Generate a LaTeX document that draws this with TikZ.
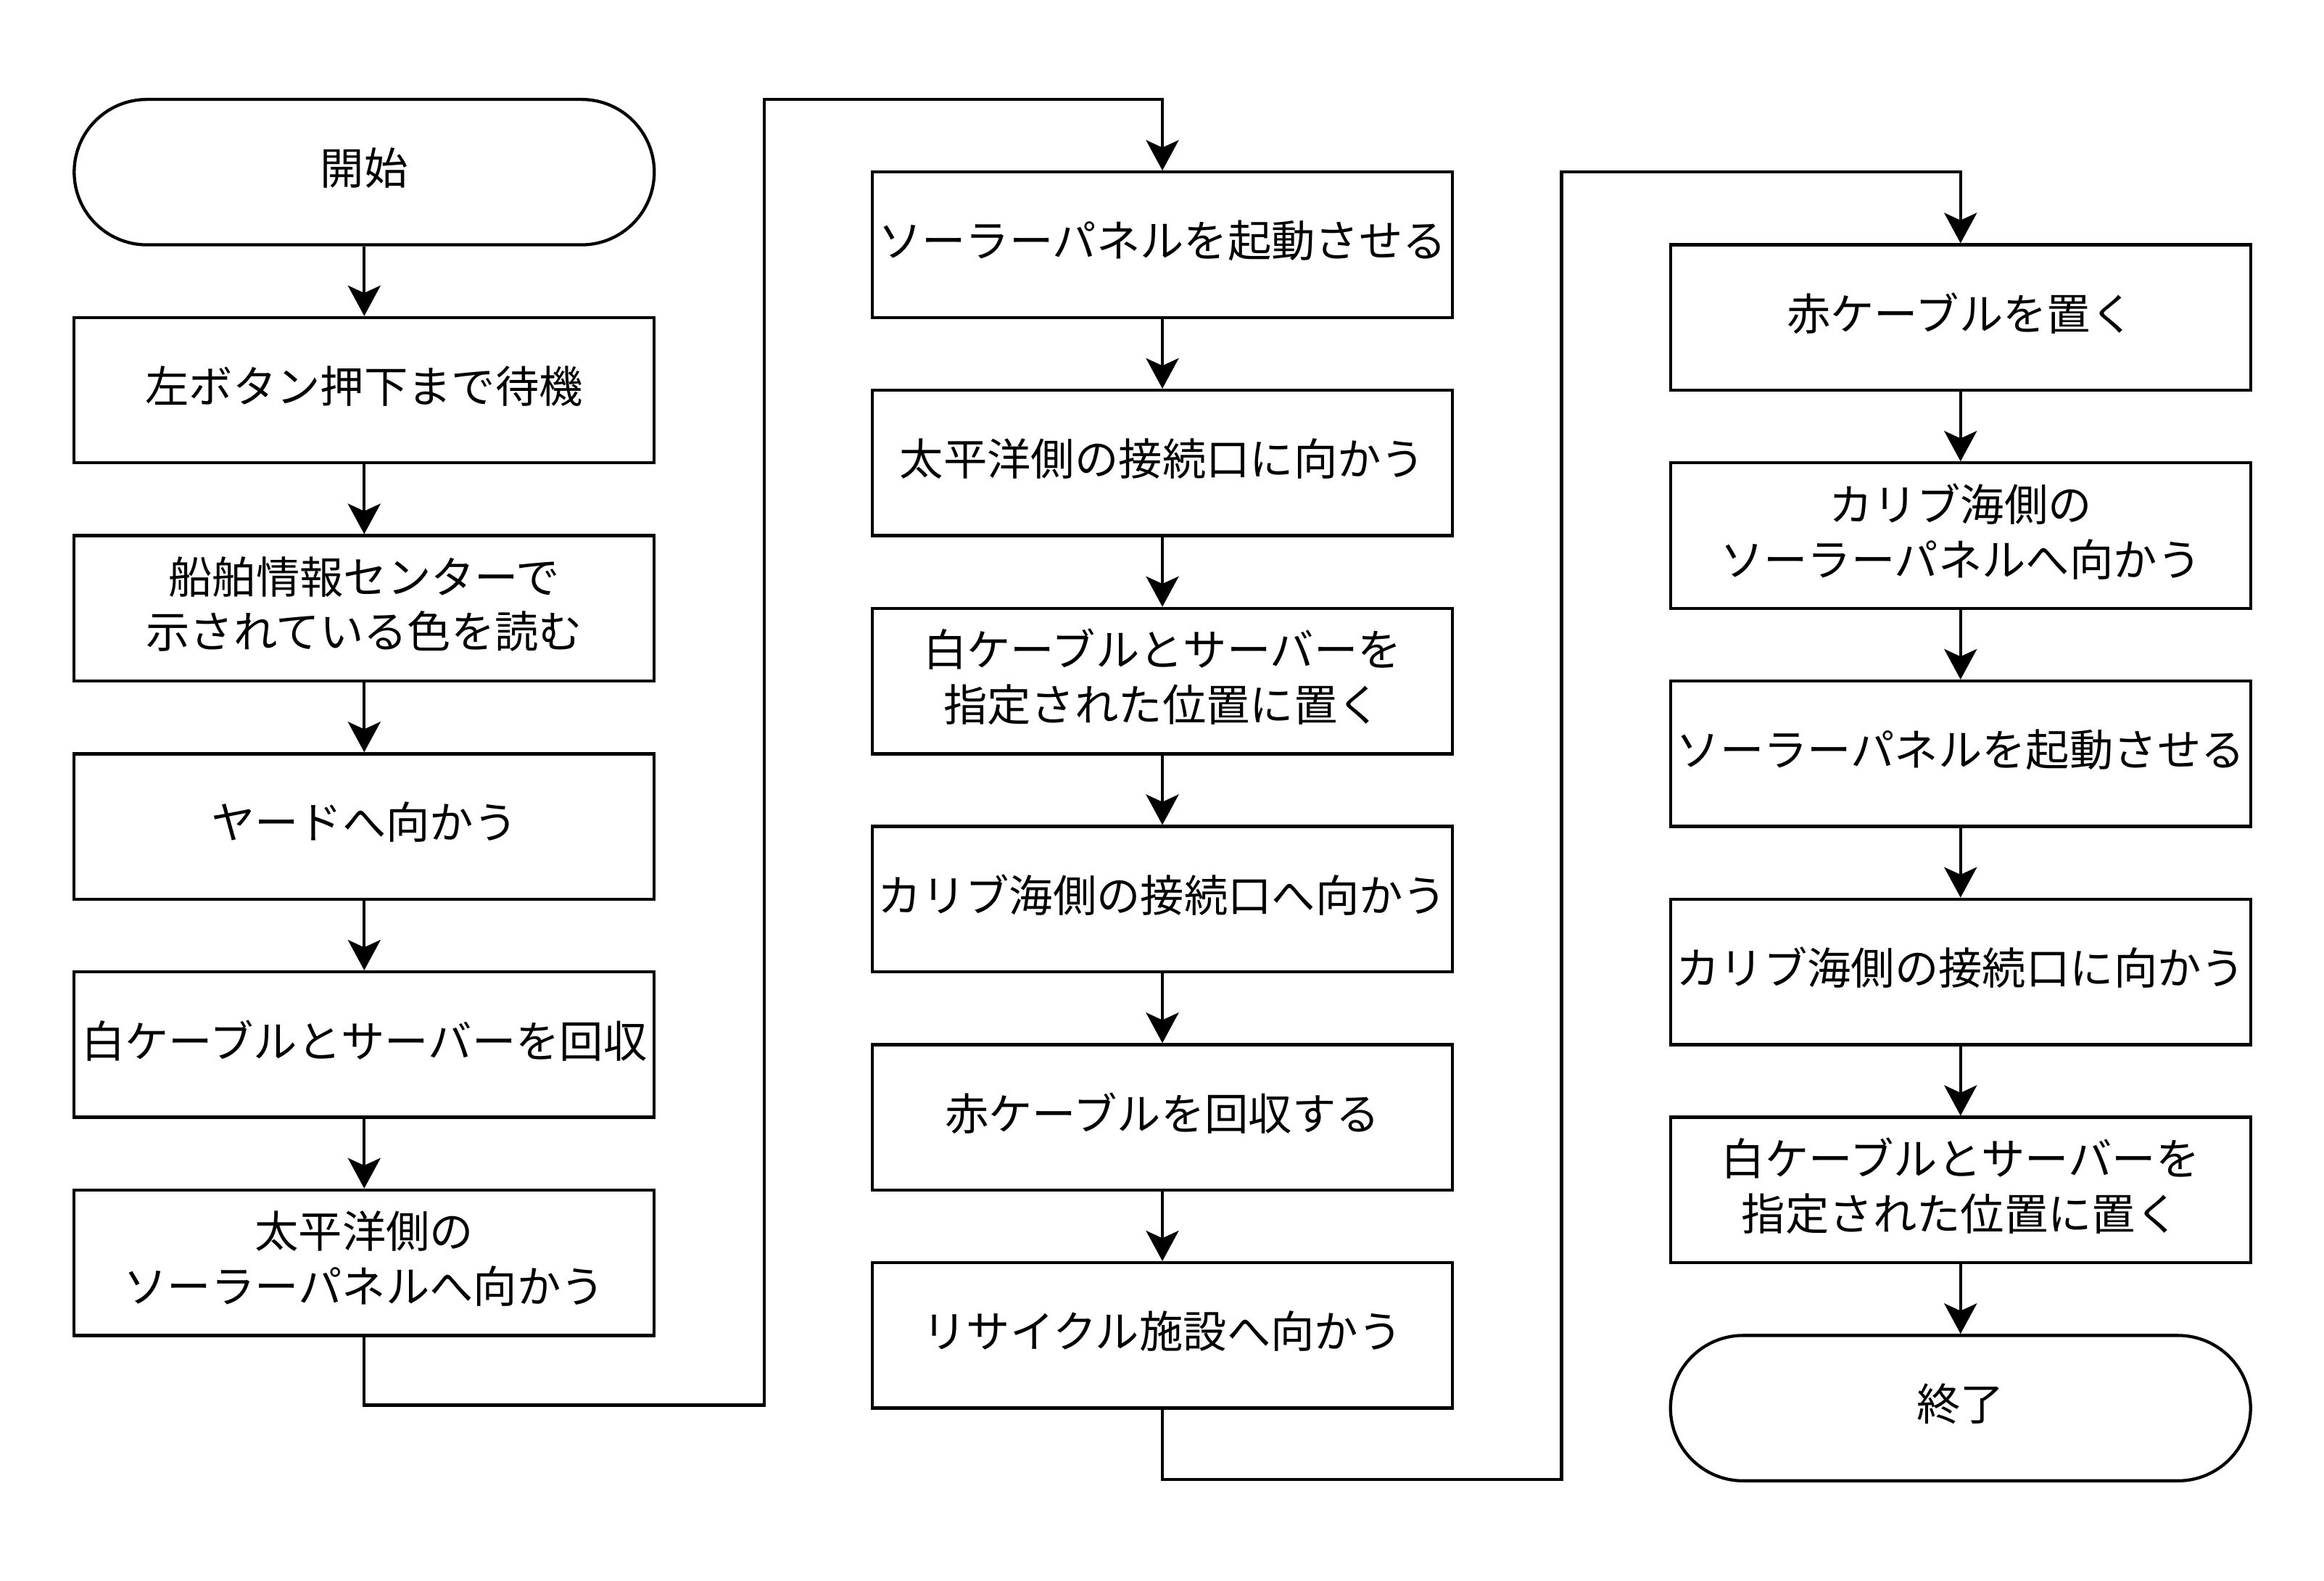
\documentclass[tikz,border=0pt]{standalone}
\usepackage{fontspec}
\setmainfont{Noto Sans CJK JP}
\usetikzlibrary{arrows.meta}
\tikzset{
  every node/.style={font=\fontsize{29.5pt}{37pt}\selectfont},
  box/.style={draw, line width=2.1pt, minimum width=391pt, minimum height=98pt, inner sep=0pt, align=center, text depth=8pt},
  term/.style={box, rounded corners=49pt},
  arr/.style={line width=2.1pt, -{Stealth[length=20.5pt, width=22pt, inset=5pt]}}
}
\begin{document}
\begin{tikzpicture}[x=1pt, y=-1pt]
\useasboundingbox (0,0) rectangle (1566.5,1065.5);
% column 1
\node[term] (s)  at (245.5,116) {開始};
\node[box]  (a1) at (245.5,263) {左ボタン押下まで待機};
\node[box]  (a2) at (245.5,410) {船舶情報センターで\\示されている色を読む};
\node[box]  (a3) at (245.5,557) {ヤードへ向かう};
\node[box]  (a4) at (245.5,704) {白ケーブルとサーバーを回収};
\node[box]  (a5) at (245.5,851) {太平洋側の\\ソーラーパネルへ向かう};
% column 2
\node[box]  (b1) at (783.5,165) {ソーラーパネルを起動させる};
\node[box]  (b2) at (783.5,312) {太平洋側の接続口に向かう};
\node[box]  (b3) at (783.5,459) {白ケーブルとサーバーを\\指定された位置に置く};
\node[box]  (b4) at (783.5,606) {カリブ海側の接続口へ向かう};
\node[box]  (b5) at (783.5,753) {赤ケーブルを回収する};
\node[box]  (b6) at (783.5,900) {リサイクル施設へ向かう};
% column 3
\node[box]  (c1) at (1321.5,214) {赤ケーブルを置く};
\node[box]  (c2) at (1321.5,361) {カリブ海側の\\ソーラーパネルへ向かう};
\node[box]  (c3) at (1321.5,508) {ソーラーパネルを起動させる};
\node[box]  (c4) at (1321.5,655) {カリブ海側の接続口に向かう};
\node[box]  (c5) at (1321.5,802) {白ケーブルとサーバーを\\指定された位置に置く};
\node[term] (e)  at (1321.5,949) {終了};
% junction coordinates
\coordinate (j1) at (515,947);
\coordinate (j2) at (515,67);
\coordinate (k1) at (1052.5,997);
\coordinate (k2) at (1052.5,116);
% connectors
\draw[arr] (s.south) -- (a1.north);
\draw[arr] (a1.south) -- (a2.north);
\draw[arr] (a2.south) -- (a3.north);
\draw[arr] (a3.south) -- (a4.north);
\draw[arr] (a4.south) -- (a5.north);
\draw[arr] (a5.south) |- (j1) -- (j2) -| (b1.north);
\draw[arr] (b1.south) -- (b2.north);
\draw[arr] (b2.south) -- (b3.north);
\draw[arr] (b3.south) -- (b4.north);
\draw[arr] (b4.south) -- (b5.north);
\draw[arr] (b5.south) -- (b6.north);
\draw[arr] (b6.south) |- (k1) -- (k2) -| (c1.north);
\draw[arr] (c1.south) -- (c2.north);
\draw[arr] (c2.south) -- (c3.north);
\draw[arr] (c3.south) -- (c4.north);
\draw[arr] (c4.south) -- (c5.north);
\draw[arr] (c5.south) -- (e.north);
\end{tikzpicture}
\end{document}
